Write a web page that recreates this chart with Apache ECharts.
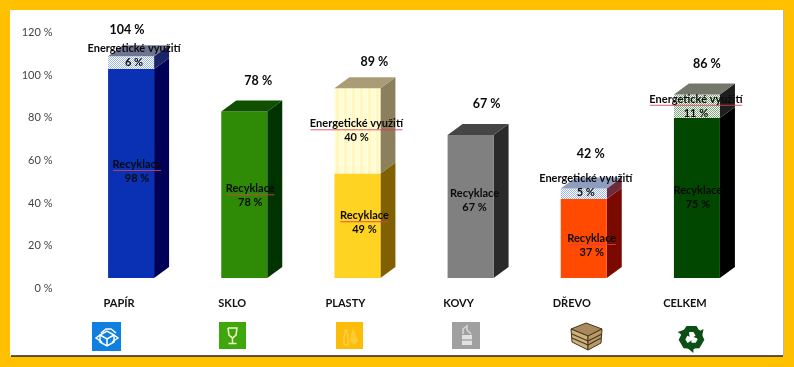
<!DOCTYPE html>
<html><head><meta charset="utf-8">
<style>html,body{margin:0;padding:0;background:#FFC000}#c{width:794px;height:367px}</style>
<script src="https://cdn.jsdelivr.net/npm/echarts@6/dist/echarts.min.js"></script>
</head><body><div id="c"></div>
<script>
const categories = ['PAPÍR','SKLO','PLASTY','KOVY','DŘEVO','CELKEM'];
const recyklace = [98,78,49,67,37,75];
const energie = [6,0,40,0,5,11];
const celkem = [104,78,89,67,42,86];
const yTicks = [0,20,40,60,80,100,120];

const FONT = 'Lato, Carlito, "Open Sans", sans-serif';
// per-bar styling
const front = ['#0A30B4','#2F8A06','#FFD322','#808080','#FF4A00','#024700'];
const side = ['#000058','#003300','#806000','#2A2A2A','#7A0A00','#000000'];
const top3d = ['#0A1E70','#0F4F00','#9A7A10','#454545','#8A1A00','#203020'];
const enSide = ['#1C2468',null,'#8C7F5C',null,'#6E2A3A','#1E1E1E'];
const enTop = ['#6F7692',null,'#A99C76',null,'#8E9CBE','#74786C'];
// label nudges relative to the mark they describe
const totalNudge = [[-4,-26],[14,-31],[17,-26],[16,-31],[7,-34],[10,-31]];
const recNudge = [[6,-2],[6,1],[7,-3],[4,-6],[8,7],[1,-1]];
const enNudge = [[3,-7],null,[-1,0],null,[2,-8],[-1,0]];
const recSquiggle = [true,true,true,false,true,false];
const enSquiggle = [false,false,true,false,false,true];

function pattern(size, draw){
  const c = document.createElement('canvas'); c.width = c.height = size;
  draw(c.getContext('2d'));
  return {image:c, repeat:'repeat'};
}
function checker(bg, fg){
  return pattern(2, g => { g.fillStyle=bg; g.fillRect(0,0,2,2); g.fillStyle=fg; g.fillRect(0,0,1,1); g.fillRect(1,1,1,1); });
}
const bluePat = checker('#FFFFFF','#9DB5E5');
const enFront = [bluePat, null,
  pattern(8, g => { g.fillStyle='#FFFCD8'; g.fillRect(0,0,8,8); g.fillStyle='#FFF6C0'; g.fillRect(0,0,3,8); }),
  null, bluePat, checker('#F8F8F4','#7FA67F')];

const DX = 15, DY = -11;

function prism(api, idx, start, end, fFill, sFill, tFill, drawTop){
  const w = Math.round(api.size([1,0])[0]*0.405);
  const b = api.coord([idx,start]), t = api.coord([idx,end]);
  const x0 = b[0]-w/2, x1 = x0+w;
  const children = [
    {type:'polygon', shape:{points:[[x1,b[1]],[x1+DX,b[1]+DY],[x1+DX,t[1]+DY],[x1,t[1]]]}, style:{fill:sFill}},
    {type:'rect', shape:{x:x0,y:t[1],width:w,height:b[1]-t[1]}, style:{fill:fFill}}
  ];
  if (drawTop) children.push({type:'polygon', shape:{points:[[x0,t[1]],[x0+DX,t[1]+DY],[x1+DX,t[1]+DY],[x1,t[1]]]}, style:{fill:tFill}});
  return {type:'group', children};
}
function labelBlock(cx, cy, name, value, squiggle){
  const font = 'bold 11px '+FONT;
  const kids = [
    {type:'text', z2:50, style:{text:name, x:cx, y:cy-7, align:'center', verticalAlign:'middle', font, fill:'#0A0A0A'}},
    {type:'text', z2:50, style:{text:value+' %', x:cx, y:cy+7, align:'center', verticalAlign:'middle', font, fill:'#0A0A0A'}}
  ];
  if (squiggle){
    const hw = name.length>10 ? 46 : 24;
    kids.push({type:'line', z2:49, shape:{x1:cx-hw,y1:cy-1,x2:cx+hw,y2:cy-1}, style:{stroke:'#D8405A',lineWidth:1,opacity:.85}});
  }
  return {type:'group', children:kids};
}

const rows = categories.map((c,i)=>[i, recyklace[i], energie[i], celkem[i]]);

const panel = [
  {type:'rect', z:-10, shape:{x:10,y:10,width:773,height:346}, style:{fill:'#FFFFFF'}},
  {type:'line', z:-9, shape:{x1:11,y1:356,x2:783,y2:356}, style:{stroke:'#2A2418',lineWidth:1.5}},
  {type:'line', z:-9, shape:{x1:783.5,y1:10,x2:783.5,y2:356}, style:{stroke:'#B8B8B0',lineWidth:1}}
];
const W = {stroke:'#FFFFFF', fill:'none', lineWidth:1.5};
function icon(x,y,children){ return {type:'group', x, y, children}; }
const icons = [
  icon(92,322,[
    {type:'rect',shape:{x:0,y:0,width:29,height:29},style:{fill:'#0F7FE0'}},
    {type:'polygon',shape:{points:[[8,13],[15,9],[22,13],[22,20],[15,24],[8,20]]},style:W},
    {type:'polyline',shape:{points:[[8,13],[15,17],[22,13]]},style:W},
    {type:'line',shape:{x1:15,y1:17,x2:15,y2:24},style:W},
    {type:'polyline',shape:{points:[[8,13],[4,16],[10,20]]},style:W},
    {type:'polyline',shape:{points:[[22,13],[26,16],[20,20]]},style:W},
    {type:'polyline',shape:{points:[[9,11],[14,7],[19,7],[24,11]]},style:W}
  ]),
  icon(219,322,[
    {type:'rect',shape:{x:0,y:0,width:27,height:27},style:{fill:'#3FA60E'}},
    {type:'polyline',shape:{points:[[9,6],[10,13],[13.5,16],[17,13],[18,6],[9,6]]},style:{stroke:'#F4F4C8',fill:'none',lineWidth:1.5}},
    {type:'line',shape:{x1:13.5,y1:16,x2:13.5,y2:21},style:{stroke:'#F4F4C8',lineWidth:1.5}},
    {type:'line',shape:{x1:9.5,y1:21.5,x2:17.5,y2:21.5},style:{stroke:'#F4F4C8',lineWidth:1.5}}
  ]),
  icon(336,322,[
    {type:'rect',shape:{x:0,y:0,width:27,height:27},style:{fill:'#FBBC0A'}},
    {type:'polygon',shape:{points:[[9,8],[11,8],[11,12],[12,15],[12,23],[8,23],[8,15],[9,12]]},style:{fill:'none',stroke:'#FFD75A',lineWidth:1}},
    {type:'polygon',shape:{points:[[17,6],[20,13],[22,19],[18,23],[14,19],[15,13]]},style:{fill:'#FFD75A',opacity:.55}}
  ]),
  icon(452,322,[
    {type:'rect',shape:{x:0,y:0,width:28,height:27},style:{fill:'#A0A0A0'}},
    {type:'rect',shape:{x:10,y:13,width:10,height:10},style:{fill:'#E2E2E2'}},
    {type:'polyline',shape:{points:[[11,12],[11,7],[15,4],[15,8],[19,12]]},style:{fill:'none',stroke:'#D8D8D8',lineWidth:1.5}},
    {type:'line',shape:{x1:10,y1:18,x2:20,y2:18},style:{stroke:'#8A8A8A',lineWidth:1}}
  ]),
  icon(570,323,[
    {type:'polygon',shape:{points:[[1,6],[16,0],[32,6],[18,13]]},style:{fill:'#A98A5C',stroke:'#4A3418',lineWidth:1}},
    {type:'polygon',shape:{points:[[1,6],[18,13],[18,27],[2,19]]},style:{fill:'#CDB07E',stroke:'#4A3418',lineWidth:1}},
    {type:'polygon',shape:{points:[[18,13],[32,6],[31,20],[18,27]]},style:{fill:'#B89A6A',stroke:'#4A3418',lineWidth:1}},
    {type:'line',shape:{x1:2,y1:11,x2:18,y2:18},style:{stroke:'#4A3418',lineWidth:1.2}},
    {type:'line',shape:{x1:2,y1:15,x2:18,y2:22},style:{stroke:'#4A3418',lineWidth:1.2}},
    {type:'line',shape:{x1:18,y1:18,x2:32,y2:11},style:{stroke:'#4A3418',lineWidth:1.2}},
    {type:'line',shape:{x1:18,y1:22,x2:31,y2:15},style:{stroke:'#4A3418',lineWidth:1.2}}
  ]),
  icon(691.5,338,[0,1,2].map(k=>({
    type:'group', rotation:-k*2*Math.PI/3,
    children:[{type:'polygon',shape:{points:[[-11,-3],[-5,-12],[5,-12],[8,-7],[12,-9],[10,2],[2,-1],[5,-3],[2,-6],[-2,-6],[-6,1]]},style:{fill:'#0B4F16'}}]
  })))
];

const chart = echarts.init(document.getElementById('c'), null, {renderer:'canvas'});
chart.setOption({
  backgroundColor:'#FFC000',
  animation:false,
  graphic:[...panel, ...icons],
  grid:{left:74.5,right:40.5,top:22,bottom:89},
  xAxis:{type:'category',data:categories,
    axisLine:{show:false},axisTick:{show:false},
    axisLabel:{margin:20,padding:[0,24,0,0],interval:0,color:'#111',fontFamily:FONT,fontWeight:'bold',fontSize:11}},
  yAxis:{type:'value',min:yTicks[0],max:yTicks[yTicks.length-1],interval:20,
    axisLine:{show:false},axisTick:{show:false},splitLine:{show:false},
    axisLabel:{margin:22,verticalAlign:'top',padding:[5,0,0,0],color:'#444',fontFamily:FONT,fontSize:11,formatter:'{value} %'}},
  series:[
    {type:'custom',name:'Recyklace',data:rows,encode:{x:0,y:1},z:2,renderItem(p,api){
      const i=api.value(0),r=api.value(1),e=api.value(2);
      return prism(api,i,0,r,front[i],side[i],top3d[i],e===0);
    }},
    {type:'custom',name:'Energetické využití',data:rows.filter(r=>r[2]>0),encode:{x:0,y:3},z:3,renderItem(p,api){
      const i=api.value(0),r=api.value(1),e=api.value(2);
      return prism(api,i,r,r+e,enFront[i],enSide[i],enTop[i],true);
    }},
    {type:'custom',name:'labels',data:rows,encode:{x:0,y:3},z:5,silent:true,renderItem(p,api){
      const i=api.value(0),r=api.value(1),e=api.value(2),tot=api.value(3);
      const kids=[];
      const c=api.coord([i,r/2]);
      kids.push(labelBlock(c[0]+recNudge[i][0],c[1]+recNudge[i][1],'Recyklace',r,recSquiggle[i]));
      if(e>0){
        const d=api.coord([i,r+e/2]);
        kids.push(labelBlock(d[0]+enNudge[i][0],d[1]+enNudge[i][1],'Energetické využití',e,enSquiggle[i]));
      }
      const t=api.coord([i,r+e]);
      kids.push({type:'text',z2:50,style:{text:tot+' %',x:t[0]+totalNudge[i][0],y:t[1]+totalNudge[i][1],align:'center',verticalAlign:'middle',font:'bold 12.5px '+FONT,fill:'#0A0A0A'}});
      return {type:'group',children:kids};
    }}
  ]
});
</script></body></html>
